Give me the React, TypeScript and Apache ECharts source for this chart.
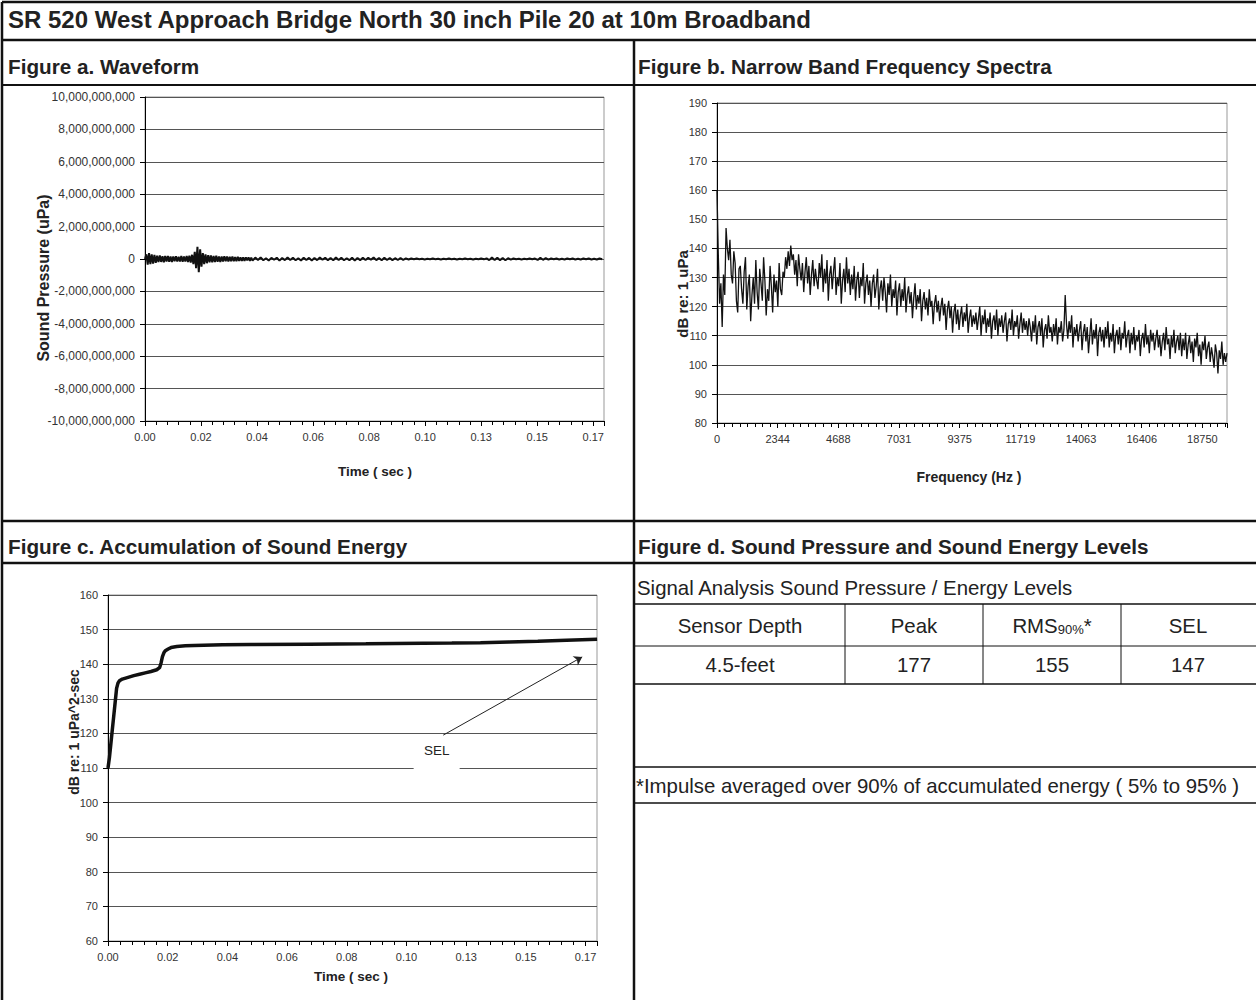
import React, { useEffect, useRef } from "react";
import * as echarts from "echarts";

const FONT = '"Liberation Sans", Arial, Helvetica, sans-serif';

const TITLE = "SR 520 West Approach Bridge North 30 inch Pile 20 at 10m Broadband";
const PANEL_TITLES = [
  "Figure a. Waveform",
  "Figure b. Narrow Band Frequency Spectra",
  "Figure c. Accumulation of Sound Energy",
  "Figure d. Sound Pressure and Sound Energy Levels",
];

// Sampling: 8192 samples at 48 kHz, labels every 1000 samples
const SAMPLE_RATE = 48000;
const WAVE_DURATION = 8192 / SAMPLE_RATE;
const TIME_TICK = 1000 / SAMPLE_RATE;
const TIME_LABELS = ["0.00", "0.02", "0.04", "0.06", "0.08", "0.10", "0.13", "0.15", "0.17"];

const FREQ_TICK = (100 * SAMPLE_RATE) / 2048; // 2343.75 Hz
const FREQ_LABELS = ["0", "2344", "4688", "7031", "9375", "11719", "14063", "16406", "18750"];
const FREQ_MAX = 19700;

const PRESSURE_MIN = -1e10;
const PRESSURE_MAX = 1e10;
const PRESSURE_TICK = 2e9;

// Waveform samples, in units of 1e8 uPa
const WAVE_UNIT = 1e8;
const WAVE_A_START = 0;
const WAVE_A_STEP = 0.0005;
const WAVE_A = [
  0, 2.9, -3.4, 3.6, -3.1, 2.8, -2.9, 2.5, -2.3, 2.1,
  -1.9, 2.2, -1.8, 1.7, -2.0, 1.8, -1.6, 1.9, -1.7, 1.5,
  -1.8, 1.6, -1.4, 1.7, -1.6, 1.4, -1.5, 1.8, -1.7, 1.5,
  -1.6, 1.9, -1.8, 2.0, -2.2, 2.6, -3.2, 4.4, -5.6, 7.6,
  -8.1, 6.0, -4.8, 3.7, -3.2, 2.8, -2.6, 2.4, -2.1, 2.2,
  -2.0, 1.8, -1.9, 2.1, -1.7, 1.6, -1.8, 1.5, -1.6, 1.7,
  -1.4, 1.5, -1.6, 1.4, -1.3, 1.5, -1.4, 1.2, -1.3, 1.4,
  -1.2, 1.1, -1.2, 1.0, -1.1, 1.0, -0.9, 1.0, -1.1, 0.9,
  -1.0,
];
const WAVE_B_START = 0.041;
const WAVE_B_STEP = 0.001;
const WAVE_B = [
  0.9, -0.6, 1.0, -0.8, 0.5, -0.9, 0.7, -0.5, 0.8, -1.0,
  0.6, -0.7, 0.9, -0.6, 0.7, -0.8, 0.5, -0.9, 0.8, -0.6,
  0.7, -0.9, 0.6, -0.7, 0.9, -0.5, 0.8, -0.7, 0.6, -0.8,
  0.9, -0.6, 0.7, -0.8, 0.5, -0.7, 0.8, -0.9, 0.6, -0.7,
  0.8, -0.6, 0.7, -0.5, 0.9, -0.7, 0.6, -0.8, 0.7, -0.6,
  0.6, -0.7, 0.5, -0.6, 0.6, -0.5, 0.4, -0.3, 0.3, -0.2,
  0.3, -0.2, 0.2, -0.3, 0.2, -0.2, 0.3, -0.2, 0.2, -0.3,
  0.2, -0.2, 0.3, -0.2, 0.2, -0.3, 0.2, -0.2, 0.3, -0.2,
  0.2, -0.3, 0.2, -0.2, 0.3, -0.2, 0.4, -0.7, 0.9, -0.6,
  0.8, -0.7, 0.6, -0.8, 0.5, -0.4, 0.3, -0.2, 0.2, -0.3,
  0.2, -0.2, 0.3, -0.2, 0.3, -0.6, 0.7, -0.5, 0.6, -0.4,
  0.3, -0.2, 0.3, -0.3, 0.2, -0.3, 0.3, -0.2, 0.3, -0.3,
  0.2, -0.3, 0.3, -0.2, 0.3, -0.3, 0.2, -0.3, 0.3, -0.2,
];

// Narrow band spectrum, dB re 1 uPa, every 50 Hz from 0 Hz
const SPEC_STEP = 50;
const SPEC_DB = [
  160, 138, 121, 128, 113, 131, 124, 147, 140, 136, 143, 131, 128, 139, 135, 122, 118, 133, 134, 126,
  121, 132, 137, 119, 127, 131, 115, 124, 130, 121, 136, 125, 119, 133, 128, 122, 137, 129, 117, 126,
  122, 134, 127, 118, 131, 125, 129, 120, 135, 126, 124, 132, 130, 137, 133, 139, 134, 141, 136, 138,
  131, 136, 127, 138, 133, 129, 135, 125, 132, 137, 128, 134, 124, 131, 136, 127, 133, 129, 126, 135,
  130, 138, 125, 133, 128, 136, 122, 131, 134, 126, 132, 137, 124, 130, 127, 135, 121, 129, 133, 125,
  137, 128, 133, 124, 131, 126, 134, 122, 129, 132, 123, 130, 127, 135, 121, 128, 131, 124, 129, 120,
  128, 131, 123, 127, 133, 119, 126, 129, 122, 130, 125, 118, 128, 124, 131, 120, 126, 123, 129, 117,
  125, 128, 120, 126, 122, 130, 118, 124, 127, 121, 125, 116, 123, 128, 119, 124, 121, 126, 115, 122,
  125, 119, 123, 117, 126, 120, 122, 114, 121, 124, 118, 122, 115, 120, 123, 117, 121, 112, 119, 122,
  116, 120, 111, 118, 121, 114, 119, 112, 117, 120, 113, 118, 115, 121, 111, 116, 119, 113, 117, 114,
  118, 112, 116, 120, 110, 117, 114, 119, 111, 116, 113, 118, 109, 115, 117, 112, 119, 110, 116, 113,
  117, 111, 115, 118, 108, 114, 116, 112, 119, 110, 115, 113, 117, 109, 114, 118, 111, 116, 112, 115,
  110, 116, 113, 108, 115, 111, 117, 107, 113, 115, 110, 116, 106, 112, 114, 109, 117, 111, 113, 108,
  114, 110, 116, 107, 113, 111, 115, 108, 112, 124, 114, 109, 115, 111, 117, 106, 113, 110, 114, 108,
  112, 115, 105, 111, 114, 108, 113, 104, 110, 116, 107, 112, 109, 114, 103, 111, 113, 108, 112, 106,
  113, 109, 115, 106, 111, 108, 114, 104, 110, 112, 107, 113, 105, 111, 109, 115, 106, 110, 112, 104,
  111, 107, 113, 105, 110, 108, 112, 103, 109, 111, 106, 114, 107, 110, 104, 112, 108, 111, 105, 109,
  112, 106, 110, 103, 108, 111, 105, 113, 107, 109, 102, 110, 106, 112, 104, 108, 110, 105, 111, 103,
  109, 105, 111, 102, 107, 110, 104, 108, 101, 109, 106, 111, 103, 107, 100, 108, 105, 110, 102, 106,
  108, 101, 106, 103, 99, 107, 104, 97, 105, 102, 108, 100, 104, 101, 104,
];

// Accumulated sound energy
const SEL_T = [
  0, 0.0005, 0.001, 0.0015, 0.002, 0.0025, 0.003, 0.0035, 0.004,
  0.005, 0.007, 0.009, 0.011, 0.013, 0.015, 0.017,
  0.018, 0.0185, 0.019, 0.0195, 0.02, 0.021, 0.022,
  0.024, 0.027, 0.03, 0.04, 0.05, 0.07, 0.09,
  0.1, 0.12, 0.13, 0.14, 0.15, 0.16, 0.1707,
];
const SEL_DB = [
  110, 113, 117, 121, 125, 129, 133, 134.6, 135.2,
  135.7, 136.2, 136.7, 137.1, 137.5, 137.9, 138.4,
  139.0, 140.3, 142.2, 143.3, 143.9, 144.4, 144.8,
  145.1, 145.3, 145.4, 145.6, 145.7, 145.8, 145.9,
  146.0, 146.1, 146.2, 146.4, 146.6, 146.9, 147.2,
];
const SEL_LABEL = "SEL";
const SEL_LABEL_AT = [0.1147, 114];
const SEL_ARROW_FROM = [0.117, 119.5];
const SEL_ARROW_TO = [0.1655, 142.1];

// Table d
const TABLE_CAPTION = "Signal Analysis Sound Pressure / Energy Levels";
const TABLE_HEAD = ["Sensor Depth", "Peak", "RMS", "SEL"];
const TABLE_ROW = ["4.5-feet", "177", "155", "147"];
const FOOTNOTE = "*Impulse averaged over 90% of accumulated energy ( 5% to 95% )";

const AXIS_TITLES = {
  waveY: "Sound Pressure (uPa)",
  waveX: "Time ( sec )",
  specY: "dB re: 1 uPa",
  specX: "Frequency (Hz )",
  selY: "dB re: 1 uPa^2-sec",
  selX: "Time ( sec )",
};

const labelAt = (labels: string[], step: number) => (v: number) => {
  const i = Math.round(v / step);
  if (Math.abs(v - i * step) > step * 1e-6) return "";
  return labels[i] ?? "";
};

function buildOption() {
  const waveData = [
    ...WAVE_A.map((v, i) => [WAVE_A_START + i * WAVE_A_STEP, v * WAVE_UNIT]),
    ...WAVE_B.map((v, i) => [WAVE_B_START + i * WAVE_B_STEP, v * WAVE_UNIT]),
  ];
  const specData = SPEC_DB.map((v, i) => [i * SPEC_STEP, v]);
  const selData = SEL_T.map((t, i) => [t, SEL_DB[i]]);

  const axisLine = { show: true, onZero: false, lineStyle: { color: "#000", width: 1 } };
  const tick = { show: true, length: 5, inside: false, lineStyle: { color: "#000", width: 1 } };
  const lbl = (size: number, margin: number) => ({
    color: "#333",
    fontSize: size,
    fontFamily: FONT,
    margin,
    hideOverlap: false,
  });
  const split = { show: true, lineStyle: { color: "#555", width: 1 } };
  const noSplit = { show: false };

  const gridBase = { show: true, borderColor: "#999", borderWidth: 1, backgroundColor: "transparent", containLabel: false, outerBoundsMode: "none" };

  const line = (x1: number, y1: number, x2: number, y2: number, w = 2.5) => ({
    type: "line",
    silent: true,
    shape: { x1, y1, x2, y2 },
    style: { stroke: "#111", lineWidth: w },
    z: 100,
  });
  const text = (t: string, x: number, y: number, font: string, align = "left", rotation = 0) => ({
    type: "text",
    silent: true,
    x,
    y,
    rotation,
    style: { text: t, font, fill: "#222", textAlign: align, textVerticalAlign: "middle" },
    z: 100,
  });

  const bold = (s: number) => `bold ${s}px ${FONT}`;
  const reg = (s: number) => `${s}px ${FONT}`;

  const colCenters = [740, 914, 1052, 1188];

  const graphic: any[] = [
    // frame
    line(2, 2, 1256, 2),
    line(2, 2, 2, 1000),
    line(2, 40, 1256, 40),
    line(2, 85, 1256, 85, 2),
    line(2, 521, 1256, 521),
    line(2, 563, 1256, 563),
    line(634, 40, 634, 1000),
    // table
    line(635, 604, 1256, 604, 1.5),
    line(635, 646, 1256, 646, 1),
    line(635, 684, 1256, 684, 1.5),
    line(635, 767, 1256, 767, 1.5),
    line(635, 803, 1256, 803, 1.5),
    line(845, 604, 845, 684, 1),
    line(983, 604, 983, 684, 1),
    line(1121, 604, 1121, 684, 1),
    // headers
    text(TITLE, 8, 19, bold(24)),
    text(PANEL_TITLES[0], 8, 66, bold(20.7)),
    text(PANEL_TITLES[1], 638, 66, bold(20.7)),
    text(PANEL_TITLES[2], 8, 546, bold(20.7)),
    text(PANEL_TITLES[3], 638, 546, bold(20.7)),
    // axis titles
    text(AXIS_TITLES.waveY, 43, 278, bold(16), "center", Math.PI / 2),
    text(AXIS_TITLES.waveX, 375, 471, bold(13.5), "center"),
    text(AXIS_TITLES.specY, 682, 294, bold(15), "center", Math.PI / 2),
    text(AXIS_TITLES.specX, 969, 477, bold(14), "center"),
    text(AXIS_TITLES.selY, 74, 732, bold(14), "center", Math.PI / 2),
    text(AXIS_TITLES.selX, 351, 976, bold(13.5), "center"),
    // table text
    text(TABLE_CAPTION, 637, 588, reg(20.4)),
    ...TABLE_HEAD.map((h, i) =>
      i === 2
        ? {
            type: "text",
            silent: true,
            x: colCenters[i],
            y: 626,
            z: 100,
            style: {
              text: `{a|${h}}{b|90%}{a|*}`,
              textAlign: "center",
              textVerticalAlign: "middle",
              fill: "#222",
              rich: {
                a: { font: reg(20.4), fill: "#222" },
                b: { font: reg(13), fill: "#222", verticalAlign: "bottom", padding: [6, 0, 0, 0] },
              },
            },
          }
        : text(h, colCenters[i], 626, reg(20.4), "center")
    ),
    ...TABLE_ROW.map((c, i) => text(c, colCenters[i], 665, reg(20.4), "center")),
    text(FOOTNOTE, 636, 786, reg(20.4)),
  ];

  return {
    animation: false,
    backgroundColor: "#fff",
    textStyle: { fontFamily: FONT },
    grid: [
      { ...gridBase, left: 145, top: 97, width: 459, height: 324 },
      { ...gridBase, left: 717, top: 103, width: 510, height: 320 },
      { ...gridBase, left: 108, top: 595, width: 489, height: 346 },
    ],
    xAxis: [
      {
        type: "value",
        gridIndex: 0,
        min: 0,
        max: WAVE_DURATION,
        interval: TIME_TICK,
        axisLine,
        axisTick: tick,
        minorTick: { show: true, splitNumber: 5, length: 4, lineStyle: { color: "#000" } },
        axisLabel: { ...lbl(11, 10), formatter: labelAt(TIME_LABELS, TIME_TICK) },
        splitLine: noSplit,
        minorSplitLine: { show: false },
      },
      {
        type: "value",
        gridIndex: 1,
        min: 0,
        max: FREQ_MAX,
        interval: FREQ_TICK,
        axisLine,
        axisTick: tick,
        minorTick: { show: true, splitNumber: 8, length: 4, lineStyle: { color: "#000" } },
        axisLabel: { ...lbl(11, 10), formatter: labelAt(FREQ_LABELS, FREQ_TICK) },
        splitLine: noSplit,
      },
      {
        type: "value",
        gridIndex: 2,
        min: 0,
        max: WAVE_DURATION,
        interval: TIME_TICK,
        axisLine,
        axisTick: tick,
        minorTick: { show: true, splitNumber: 5, length: 4, lineStyle: { color: "#000" } },
        axisLabel: { ...lbl(11, 10), formatter: labelAt(TIME_LABELS, TIME_TICK) },
        splitLine: noSplit,
      },
    ],
    yAxis: [
      {
        type: "value",
        gridIndex: 0,
        min: PRESSURE_MIN,
        max: PRESSURE_MAX,
        interval: PRESSURE_TICK,
        axisLine,
        axisTick: tick,
        axisLabel: { ...lbl(12, 10), formatter: (v: number) => v.toLocaleString("en-US") },
        splitLine: split,
      },
      {
        type: "value",
        gridIndex: 1,
        min: 80,
        max: 190,
        interval: 10,
        axisLine,
        axisTick: tick,
        axisLabel: lbl(11, 10),
        splitLine: split,
      },
      {
        type: "value",
        gridIndex: 2,
        min: 60,
        max: 160,
        interval: 10,
        axisLine,
        axisTick: tick,
        axisLabel: lbl(11, 10),
        splitLine: split,
      },
    ],
    series: [
      {
        type: "line",
        xAxisIndex: 0,
        yAxisIndex: 0,
        data: waveData,
        showSymbol: false,
        symbol: "none",
        lineStyle: { color: "#111", width: 2 },
        silent: true,
      },
      {
        type: "line",
        xAxisIndex: 1,
        yAxisIndex: 1,
        data: specData,
        showSymbol: false,
        symbol: "none",
        lineStyle: { color: "#111", width: 1.3 },
        silent: true,
      },
      {
        type: "line",
        xAxisIndex: 2,
        yAxisIndex: 2,
        data: selData,
        showSymbol: false,
        symbol: "none",
        lineStyle: { color: "#111", width: 3.5 },
        silent: true,
        markLine: {
          silent: true,
          symbol: ["none", "arrow"],
          symbolSize: 8,
          lineStyle: { color: "#222", width: 1, type: "solid" },
          label: { show: false },
          data: [[{ coord: SEL_ARROW_FROM }, { coord: SEL_ARROW_TO }]],
        },
        markPoint: {
          silent: true,
          data: [
            {
              coord: SEL_LABEL_AT,
              symbol: "rect",
              symbolSize: [46, 36],
              itemStyle: { color: "#fff" },
              label: {
                show: true,
                position: "inside",
                formatter: SEL_LABEL,
                color: "#222",
                fontSize: 13.5,
                fontFamily: FONT,
                offset: [0, -4],
              },
            },
          ],
        },
      },
    ],
    graphic,
  };
}

export default function App() {
  const ref = useRef<HTMLDivElement>(null);
  useEffect(() => {
    if (!ref.current) return;
    const chart = echarts.init(ref.current, null, { renderer: "svg" });
    chart.setOption(buildOption() as any);
    return () => chart.dispose();
  }, []);
  return (
    <div
      ref={ref}
      style={{ position: "absolute", left: 0, top: 0, width: 1256, height: 1000, background: "#fff" }}
    />
  );
}
